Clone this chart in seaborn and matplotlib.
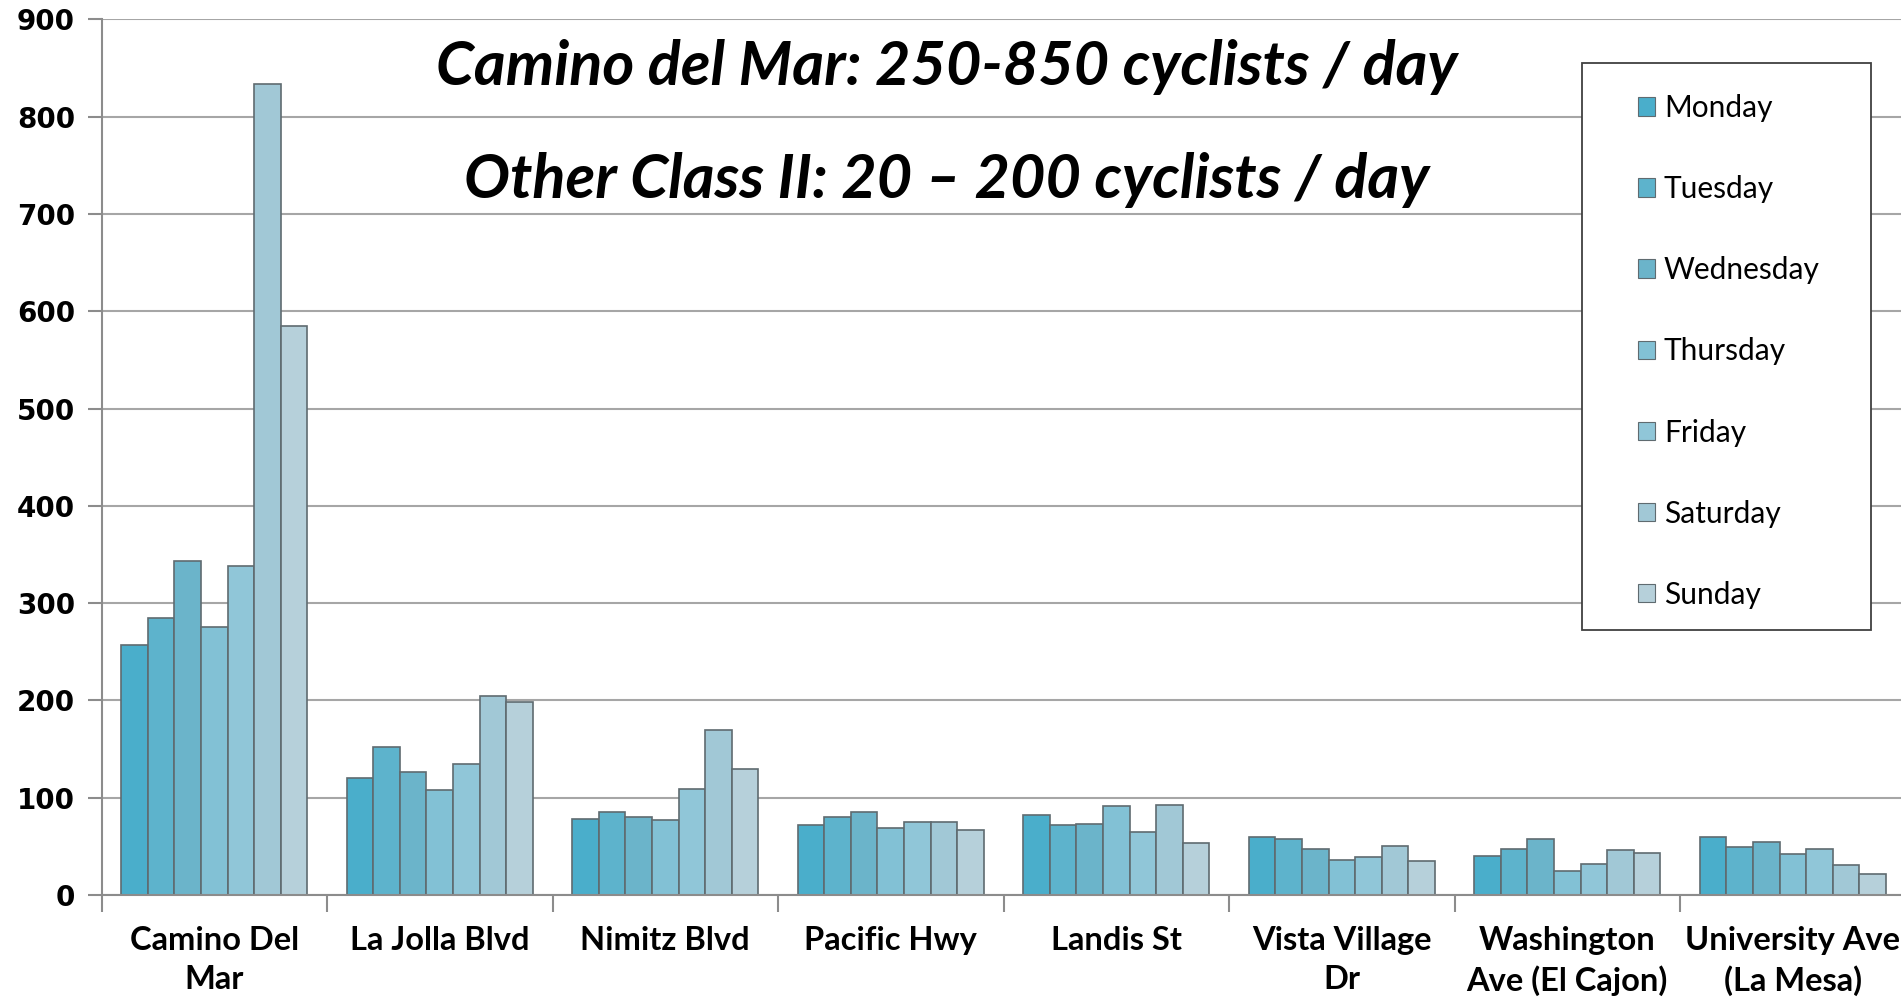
import matplotlib
matplotlib.use("Agg")
import matplotlib.pyplot as plt
import seaborn as sns
import pandas as pd
from matplotlib.patches import Patch, Rectangle

streets = ["Camino Del\nMar", "La Jolla Blvd", "Nimitz Blvd", "Pacific Hwy", "Landis St",
           "Vista Village\nDr", "Washington\nAve (El Cajon)", "University Ave\n(La Mesa)"]
days = ["Monday", "Tuesday", "Wednesday", "Thursday", "Friday", "Saturday", "Sunday"]
monday    = [257, 120, 78, 72, 82, 60, 40, 60]
tuesday   = [285, 152, 85, 80, 72, 58, 47, 49]
wednesday = [343, 126, 80, 85, 73, 47, 58, 54]
thursday  = [275, 108, 77, 69, 91, 36, 25, 42]
friday    = [338, 135, 109, 75, 65, 39, 32, 47]
saturday  = [834, 205, 170, 75, 92, 50, 46, 31]
sunday    = [585, 198, 129, 67, 53, 35, 43, 22]
series = [monday, tuesday, wednesday, thursday, friday, saturday, sunday]
colors = ["#4aaecb", "#5db3cc", "#6bb4ca", "#82c1d5", "#90c6d8", "#a1c8d6", "#b6d0da"]
title_lines = ["Camino del Mar: 250-850 cyclists / day",
               "Other Class II: 20 \u2013 200 cyclists / day"]
yticks = [0, 100, 200, 300, 400, 500, 600, 700, 800, 900]

rows = []
for d, vals in zip(days, series):
    for s, v in zip(streets, vals):
        rows.append({"street": s, "day": d, "count": v})
df = pd.DataFrame(rows)

sns.set_theme(style="white")
plt.rcParams["font.family"] = ["Lato", "DejaVu Sans"]
plt.rcParams["text.color"] = "black"
plt.rcParams["xtick.color"] = "black"
plt.rcParams["ytick.color"] = "black"

fig = plt.figure(figsize=(19.01, 9.99), dpi=100)
ax = fig.add_axes([0.0534, 0.1041, 0.949, 0.8765])

sns.barplot(data=df, x="street", y="count", hue="day", order=streets, hue_order=days,
            palette=colors, width=0.825, edgecolor="#5f6b70", linewidth=1.2,
            saturation=1, ax=ax, legend=False)

ax.set_ylim(0, 900)
ax.set_xlim(-0.5, len(streets) - 0.5)
ax.set_yticks(yticks)
ax.set_yticklabels([str(t) for t in yticks], fontsize=20, fontweight="bold",
                   family=["DejaVu Sans"])
ax.yaxis.grid(True, color="#a6a6a6", linewidth=1.5)
ax.set_axisbelow(True)
ax.set_xlabel("")
ax.set_ylabel("")
for sp in ["top", "right"]:
    ax.spines[sp].set_visible(False)
ax.spines["left"].set_color("#8c8c8c")
ax.spines["left"].set_linewidth(1.5)
ax.spines["bottom"].set_color("#8c8c8c")
ax.spines["bottom"].set_linewidth(1.5)
ax.tick_params(axis="y", which="major", direction="out", length=10, width=1.5,
               color="#8c8c8c", left=True, pad=9, labelcolor="black")
ax.tick_params(axis="x", which="major", length=0, pad=22, labelcolor="black")
ax.set_xticks(range(len(streets)))
ax.set_xticklabels(streets, fontsize=23.5, fontweight="bold", linespacing=1.42)
ax.set_xticks([i - 0.5 for i in range(len(streets) + 1)], minor=True)
ax.tick_params(axis="x", which="minor", direction="out", length=12, width=1.5,
               color="#8c8c8c", bottom=True)

for i, line in enumerate(title_lines):
    fig.text(0.498, 0.933 - i * 0.113, line, ha="center", va="center", fontsize=44,
             fontweight="bold", fontstyle="italic", color="black")

# legend frame
frame = Rectangle((0.8322, 0.3694), 0.152, 0.5676, transform=fig.transFigure,
                  facecolor="white", edgecolor="#404040", linewidth=1.3,
                  zorder=5, clip_on=False)
ax.add_patch(frame)
handles = [Patch(facecolor=c, edgecolor="#5f6b70", linewidth=0.8) for c in colors]
leg = ax.legend(handles, days, loc="upper left", bbox_to_anchor=(0.8616, 0.906),
                bbox_transform=fig.transFigure, frameon=False,
                fontsize=21.5, labelspacing=1.78, handlelength=0.57, handleheight=0.57,
                handletextpad=0.3, borderpad=0, borderaxespad=0)
for t in leg.get_texts():
    t.set_color("black")
leg.set_zorder(10)

fig.savefig("out.png", dpi=100)
